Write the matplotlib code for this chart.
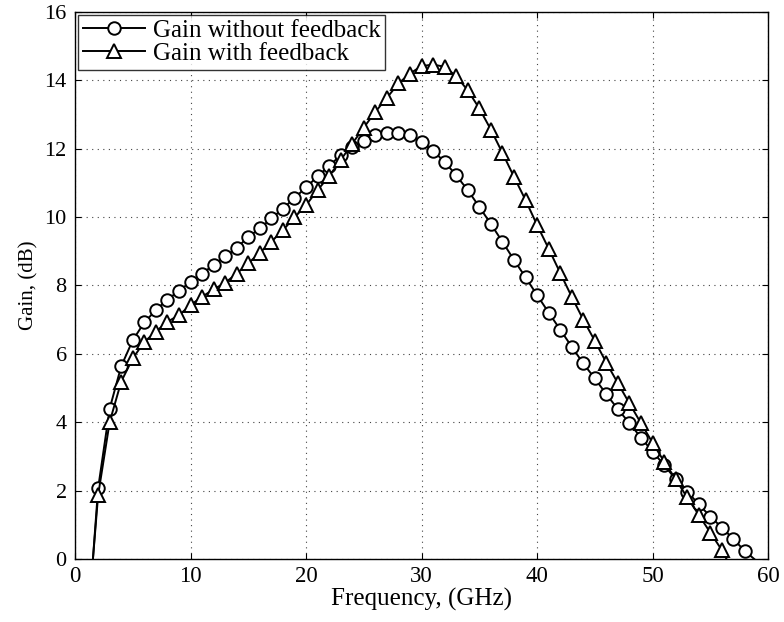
import matplotlib
matplotlib.use("Agg")
import matplotlib.pyplot as plt

freq_nofb = [1.55, 2, 3, 4, 5, 6, 7, 8, 9, 10, 11, 12, 13, 14, 15, 16, 17, 18, 19, 20,
             21, 22, 23, 24, 25, 26, 27, 28, 29, 30, 31, 32, 33, 34, 35, 36, 37, 38, 39, 40,
             41, 42, 43, 44, 45, 46, 47, 48, 49, 50, 51, 52, 53, 54, 55, 56, 57, 58, 58.8]
gain_nofb = [0.0, 2.07, 4.40, 5.64, 6.40, 6.92, 7.28, 7.59, 7.84, 8.11, 8.35, 8.60, 8.85, 9.10, 9.42, 9.67, 9.96, 10.25, 10.56, 10.87,
             11.19, 11.50, 11.81, 12.06, 12.23, 12.39, 12.46, 12.46, 12.39, 12.20, 11.93, 11.62, 11.22, 10.79, 10.30, 9.80, 9.28, 8.75, 8.24, 7.72,
             7.21, 6.71, 6.21, 5.72, 5.28, 4.82, 4.38, 3.97, 3.55, 3.14, 2.75, 2.33, 1.97, 1.60, 1.24, 0.92, 0.58, 0.23, 0.0]

freq_fb = [1.55, 2, 3, 4, 5, 6, 7, 8, 9, 10, 11, 12, 13, 14, 15, 16, 17, 18, 19, 20,
           21, 22, 23, 24, 25, 26, 27, 28, 29, 30, 31, 32, 33, 34, 35, 36, 37, 38, 39, 40,
           41, 42, 43, 44, 45, 46, 47, 48, 49, 50, 51, 52, 53, 54, 55, 56, 56.4]
gain_fb = [0.0, 1.87, 4.01, 5.19, 5.87, 6.35, 6.65, 6.94, 7.13, 7.43, 7.67, 7.89, 8.08, 8.35, 8.65, 8.96, 9.28, 9.62, 9.99, 10.35,
           10.79, 11.20, 11.67, 12.15, 12.62, 13.08, 13.49, 13.91, 14.20, 14.42, 14.46, 14.40, 14.12, 13.71, 13.18, 12.56, 11.88, 11.18, 10.50, 9.77,
           9.08, 8.37, 7.67, 7.00, 6.38, 5.74, 5.14, 4.55, 3.97, 3.40, 2.85, 2.33, 1.80, 1.29, 0.77, 0.26, 0.0]

xticks = [0, 10, 20, 30, 40, 50, 60]
yticks = [0, 2, 4, 6, 8, 10, 12, 14, 16]

serif = "Liberation Serif"

fig = plt.figure(figsize=(7.84, 6.22), dpi=100)
ax = fig.add_axes([0.0957, 0.1013, 0.884, 0.8794])

ax.plot(freq_nofb, gain_nofb, color="black", lw=1.4, marker="o", ms=9,
        mfc="white", mec="black", mew=1.4, markevery=slice(1, -1),
        label="Gain without feedback")
ax.plot(freq_fb, gain_fb, color="black", lw=1.4, marker="^", ms=10.5,
        mfc="white", mec="black", mew=1.4, markevery=slice(1, -1),
        label="Gain with feedback")

ax.set_xlim(0, 60)
ax.set_ylim(0, 16)
ax.set_xticks(xticks)
ax.set_yticks(yticks)
ax.set_xticklabels([str(v) for v in xticks], fontfamily=serif, fontsize=16.5)
ax.set_yticklabels([str(v) for v in yticks], fontfamily=serif, fontsize=16)
ax.tick_params(direction="in", top=True, right=True, length=4, width=0.8)
ax.tick_params(axis="x", pad=5)
ax.tick_params(axis="y", pad=6)
ax.grid(True, linestyle=(0, (1, 4)), color="#444444", linewidth=0.8)
for s in ax.spines.values():
    s.set_linewidth(1.0)

ax.set_xlabel("Frequency, (GHz)", fontfamily=serif, fontsize=18, labelpad=1)
ax.set_ylabel("Gain, (dB)", fontfamily=serif, fontsize=15, labelpad=4)

leg = ax.legend(loc="upper left", prop={"family": serif, "size": 18},
                frameon=True, fancybox=False, edgecolor="black",
                borderpad=0.2, labelspacing=0.0, handlelength=2.5,
                handletextpad=0.3, borderaxespad=0.1)
leg.get_frame().set_linewidth(1.0)

fig.savefig("out.png", dpi=100)
